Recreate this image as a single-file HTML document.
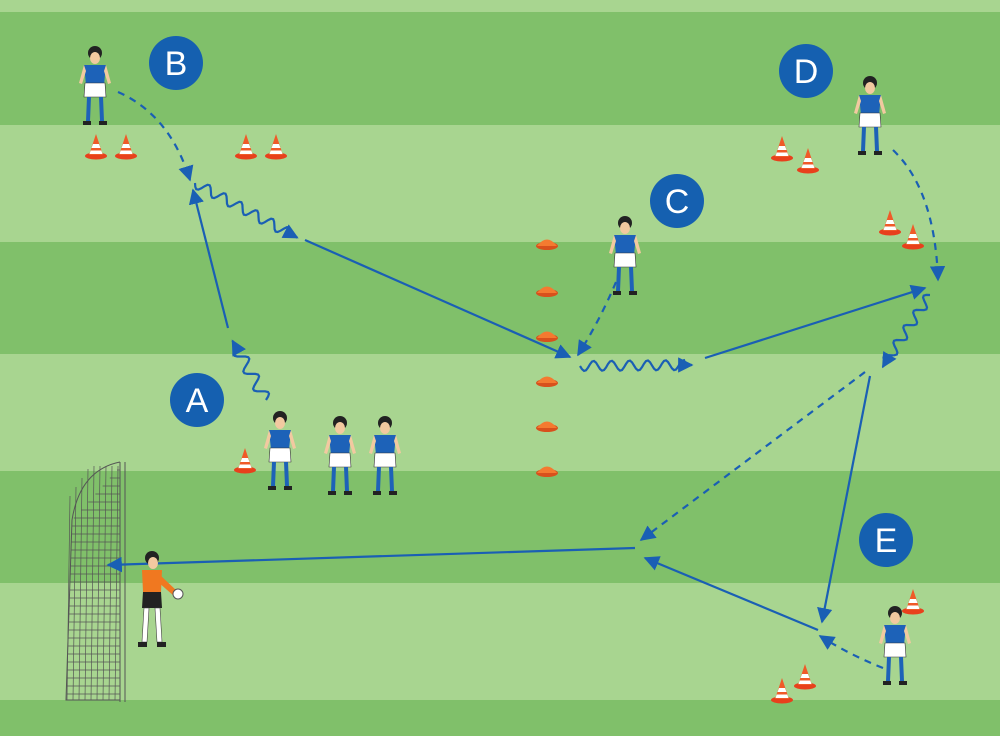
<!DOCTYPE html>
<html><head><meta charset="utf-8"><style>
html,body{margin:0;padding:0}
body{width:1000px;height:736px;overflow:hidden;font-family:"Liberation Sans",sans-serif}
</style></head><body>
<svg id="s" width="1000" height="736" viewBox="0 0 1000 736" xmlns="http://www.w3.org/2000/svg">
<defs>
<marker id="ah" viewBox="0 0 10 10" refX="9" refY="5" markerWidth="7" markerHeight="7" orient="auto"><path d="M0,0 L10,5 L0,10 z" fill="#1a5fb4"/></marker>
<g id="cone"><ellipse cx="0" cy="8" rx="11" ry="3.5" fill="#e8401c"/><path d="M-7,7 L0,-14 L7,7 z" fill="#f05a28"/><path d="M-4.5,0 L4.5,0 L3,-4 L-3,-4 z" fill="#fff"/><path d="M-6.5,6 L6.5,6 L5.3,2.5 L-5.3,2.5 z" fill="#fff"/></g>
<g id="disc"><ellipse cx="0" cy="3" rx="11" ry="4" fill="#d8501c"/><path d="M-10,3 Q0,-10 10,3 z" fill="#f47a30"/></g>
<g id="pl"><circle cx="0" cy="-42" r="7" fill="#222"/><ellipse cx="0" cy="-37" rx="5" ry="6" fill="#f2c9a0"/><path d="M-11,-30 L11,-30 L9,-10 L-9,-10 z" fill="#1d62b8"/><path d="M-11,-30 L-16,-12 L-13,-11 L-9,-24z M11,-30 L16,-12 L13,-11 L9,-24z" fill="#f2c9a0"/><path d="M-10,-12 L10,-12 L11,2 L-11,2 z" fill="#fff" stroke="#333" stroke-width=".6"/><path d="M-8,2 L-4,2 L-5,26 L-9,26 z M4,2 L8,2 L9,26 L5,26 z" fill="#1d62b8"/><path d="M-12,26 L-4,26 L-4,30 L-12,30z M4,26 L12,26 L12,30 L4,30z" fill="#222"/></g>
</defs>
<rect width="1000" height="736" fill="#a8d590"/>
<rect y="12" width="1000" height="113" fill="#80c06a"/>
<rect y="242" width="1000" height="112" fill="#80c06a"/>
<rect y="471" width="1000" height="112" fill="#80c06a"/>
<rect y="700" width="1000" height="36" fill="#80c06a"/>
<!-- goal -->
<g stroke="#555" stroke-width="1" fill="none">
<path d="M120,462 L120,702 M125,462 L125,702"/>
<path d="M120,462 Q80,470 72,520 L66,700 L120,700"/>
<g id="net"></g>
</g>
<g id="arrows" fill="none" stroke="#1a5fb4" stroke-width="2.2"></g>
<g id="objs"></g>
<g font-size="34" fill="#fff" text-anchor="middle">
<circle cx="176" cy="63" r="27" fill="#1560b0"/><text x="176" y="75">B</text>
<circle cx="677" cy="201" r="27" fill="#1560b0"/><text x="677" y="213">C</text>
<circle cx="806" cy="71" r="27" fill="#1560b0"/><text x="806" y="83">D</text>
<circle cx="197" cy="400" r="27" fill="#1560b0"/><text x="197" y="412">A</text>
<circle cx="886" cy="540" r="27" fill="#1560b0"/><text x="886" y="552">E</text>
</g>
</svg>
<script>
var NS="http://www.w3.org/2000/svg";
function el(p,t,a){var e=document.createElementNS(NS,t);for(var k in a)e.setAttribute(k,a[k]);document.getElementById(p).appendChild(e);return e;}
// net
var n="";for(var x=70;x<=120;x+=6){n+="M"+x+","+(466+Math.max(0,(90-x)*1.5))+" L"+(x-3)+",700 ";}
for(var y=470;y<=700;y+=8){var x0=72-(y-520)*0.03;if(y<520)x0=72+(520-y)*0.9;n+="M"+x0+","+y+" L120,"+y+" ";}
el("net","path",{d:n,"stroke-width":"0.7"});
function line(x1,y1,x2,y2,dash){var a={d:"M"+x1+","+y1+" L"+x2+","+y2,"marker-end":"url(#ah)"};if(dash)a["stroke-dasharray"]="7,6";el("arrows","path",a);}
function curve(d,dash){var a={d:d,"marker-end":"url(#ah)"};if(dash)a["stroke-dasharray"]="7,6";el("arrows","path",a);}
function wave(x1,y1,x2,y2,amp,wl){var dx=x2-x1,dy=y2-y1,L=Math.hypot(dx,dy),ux=dx/L,uy=dy/L,d="";for(var t=0;t<=L;t+=2){var o=amp*Math.sin(t/wl*2*Math.PI)*(t<L-8?1:0);var x=x1+ux*t-uy*o,y=y1+uy*t+ux*o;d+=(t?"L":"M")+x.toFixed(1)+","+y.toFixed(1);}el("arrows","path",{d:d,"marker-end":"url(#ah)"});}
curve("M118,92 Q170,115 190,180",1);
wave(195,183,298,238,5,18);
line(305,240,570,357);
wave(266,400,232,340,6,20);
line(228,328,193,190);
curve("M616,282 Q600,320 578,355",1);
wave(580,366,693,365,5,18);
line(705,358,925,288);
curve("M893,150 Q935,190 938,280",1);
wave(930,295,882,368,5,18);
line(870,376,822,622);
line(865,372,641,540,1);
curve("M883,668 Q850,655 820,636",1);
line(818,630,645,558);
line(635,548,108,565);
[[96,148],[126,148],[246,148],[276,148],[782,150],[808,162],[890,224],[913,238],[245,462],[913,603],[782,692],[805,678]].forEach(function(c){el("objs","use",{href:"#cone",x:c[0],y:c[1]});});
[243,290,335,380,425,470].forEach(function(y){el("objs","use",{href:"#disc",x:547,y:y});});
[[95,95],[625,265],[870,125],[280,460],[340,465],[385,465],[895,655]].forEach(function(p){el("objs","use",{href:"#pl",x:p[0],y:p[1]});});
// goalkeeper
var g=el("objs","g",{transform:"translate(152,620)"});
g.innerHTML='<circle cx="0" cy="-62" r="7" fill="#222"/><ellipse cx="1" cy="-57" rx="5" ry="6" fill="#f2c9a0"/><path d="M-10,-50 L10,-50 L9,-28 L-9,-28z" fill="#f07820"/><path d="M8,-45 L26,-28 L22,-24 L6,-38z" fill="#f07820"/><circle cx="26" cy="-26" r="5" fill="#fff" stroke="#555"/><path d="M-9,-28 L9,-28 L10,-12 L-10,-12z" fill="#222"/><path d="M-8,-12 L-3,-12 L-5,22 L-10,22z M3,-12 L8,-12 L10,22 L5,22z" fill="#fff" stroke="#444" stroke-width=".6"/><path d="M-14,22 L-5,22 L-5,27 L-14,27z M5,22 L14,22 L14,27 L5,27z" fill="#222"/>';
</script>
</body></html>
